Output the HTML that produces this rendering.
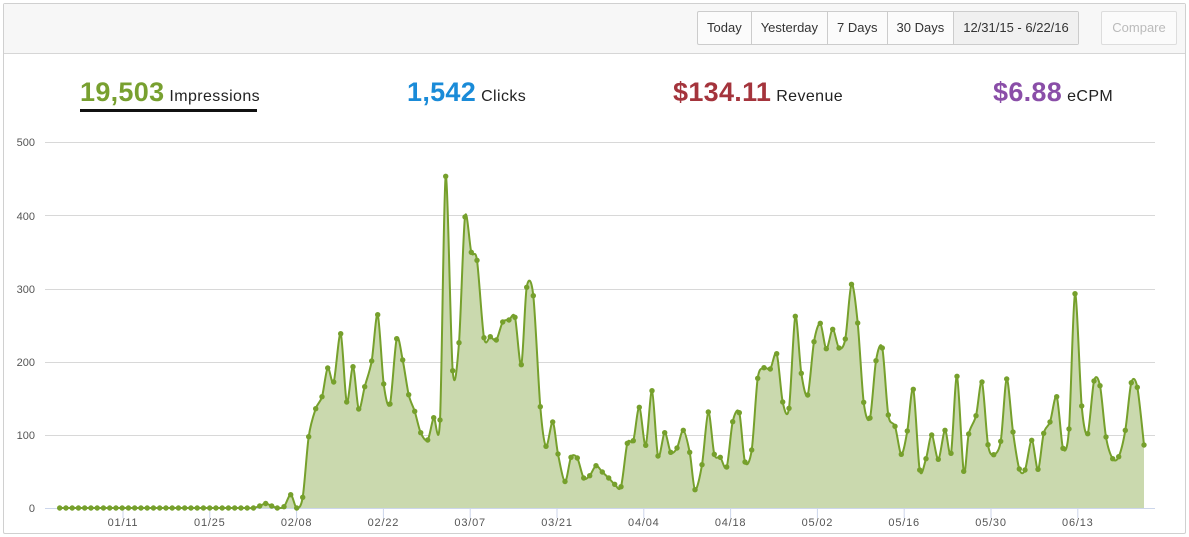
<!DOCTYPE html>
<html><head><meta charset="utf-8"><style>
body{margin:0;width:1189px;height:537px;background:#fff;font-family:"Liberation Sans",sans-serif;overflow:hidden;position:relative}
.card{position:absolute;left:3px;top:3px;width:1181px;height:529px;border:1px solid #d0d0d0;border-radius:2px}
.bar{position:absolute;left:0;top:0;width:1181px;height:49px;background:#f7f7f7;border-bottom:1px solid #d6d6d6}
.btns{position:absolute;left:693px;top:7px;height:32px;display:flex;border:1px solid #ccc;border-radius:2px;background:#fbfbfb}
.btns div{font-size:13px;color:#333;line-height:32px;padding:0 9px;border-left:1px solid #ccc}
.btns div:first-child{border-left:none}
.btns .act{background:#f0f0f0}
.cmp{position:absolute;left:1097px;top:7px;width:74px;height:32px;border:1px solid #ddd;border-radius:2px;font-size:13px;color:#bbb;line-height:32px;text-align:center;background:#fbfbfb}
.st{position:absolute;top:77px;white-space:nowrap}
.st b{font-size:27px;font-weight:bold;letter-spacing:0.3px}
.st span{font-size:16px;color:#222;margin-left:5px;letter-spacing:0.4px}
</style></head><body>
<div class="card">
<div class="bar">
<div class="btns"><div>Today</div><div>Yesterday</div><div>7 Days</div><div>30 Days</div><div class="act">12/31/15 - 6/22/16</div></div>
<div class="cmp">Compare</div>
</div>
</div>
<div class="st" style="left:80px"><b style="color:#78a030">19,503</b><span>Impressions</span></div>
<div style="position:absolute;left:80px;top:109px;width:177px;height:3px;background:#111"></div>
<div class="st" style="left:407px"><b style="color:#1a8bd8">1,542</b><span>Clicks</span></div>
<div class="st" style="left:673px"><b style="color:#a4343c">$134.11</b><span>Revenue</span></div>
<div class="st" style="left:993px"><b style="color:#8a4ea8">$6.88</b><span>eCPM</span></div>
<svg id="ch" width="1189" height="537" style="position:absolute;left:0;top:0" xmlns="http://www.w3.org/2000/svg">
<g stroke="#d8d8d8" stroke-width="1">
<line x1="45" x2="1155" y1="142.5" y2="142.5"/><line x1="45" x2="1155" y1="215.5" y2="215.5"/>
<line x1="45" x2="1155" y1="289.5" y2="289.5"/><line x1="45" x2="1155" y1="362.5" y2="362.5"/>
<line x1="45" x2="1155" y1="435.5" y2="435.5"/>
</g>
<g font-size="11" fill="#555" text-anchor="end" font-family="Liberation Sans,sans-serif">
<text x="35" y="146">500</text><text x="35" y="220">400</text><text x="35" y="293">300</text>
<text x="35" y="366">200</text><text x="35" y="439">100</text><text x="35" y="512">0</text>
</g>
<g id="fillg"></g>
<line x1="45" x2="1155" y1="508.5" y2="508.5" stroke="#ccd6eb"/>
<g id="ticks" stroke="#ccd6eb"></g>
<g id="lbl" font-size="11" fill="#555" text-anchor="middle" letter-spacing="0.8" font-family="Liberation Sans,sans-serif"></g>
<g id="lineg"></g>
</svg>
<script>
var P=[];
for(var i=0;i<33;i++)P.push([59.7+i*6.25,508]);
P[32][1]=506;
var R=[[265.7,503.5],[271.7,506],[277.3,508],[284,506.7],[290.7,494.7],[296.7,508],[302.7,497.3],[308.7,436.7],[315.7,408.7],[322,396.7],[327.7,368],[333.7,382],[340.7,333.7],[346.7,402],[353,366.7],[358.7,409],[364.7,386.7],[371.7,361],[377.7,314.7],[383.7,384],[390,404],[396.7,338.7],[402.7,360],[408.7,394.7],[414.7,411.3],[420.7,432.7],[427.7,440],[433.7,417.7],[440,420],[445.7,176.3],[452.7,370.7],[459,342.7],[465,217],[471.3,252.3],[477,260.3],[484,337.7],[490.3,336.7],[496.3,340],[502.7,322],[509,320],[515,317.3],[521.3,364.7],[526.7,287.3],[533.3,295.7],[540.3,406.7],[546,446.3],[552.7,422],[558,454],[565,481.5],[571,457.3],[577.3,458],[583.7,478],[589.7,475.7],[596,465.7],[602.3,472],[608.7,478],[614.7,484.3],[621,486.7],[627.3,443.3],[633.3,440.7],[639.3,407.3],[645.7,445.3],[652,390.7],[658,456],[664.7,432.7],[670.7,452.3],[677,448],[683.3,430.3],[689.7,452.3],[695,489.7],[702,464.7],[708.3,412],[714.3,454.3],[720.3,457.3],[726.7,467],[732.7,421.7],[739.3,412.7],[745,462],[751.7,450],[757.7,378.3],[764,367.7],[770.3,369],[776.7,353.7],[782.7,402],[789,408.3],[795.3,316.3],[801.3,373.3],[807.7,395],[814,341.7],[820.3,323.3],[826.3,348.7],[832.7,329.3],[839,348],[845.3,339],[851.5,284.3],[857.7,323],[863.7,402.3],[870,418],[876,360.7],[882.3,348],[888.3,415],[895,426.3],[901.3,454.3],[907.3,431],[913.3,389.3],[919.7,470],[926,458.7],[931.7,435],[938.3,459.3],[945,430.3],[951,453.3],[957,376.3],[963.7,471.3],[968.7,434],[976,415.7],[982,382],[988,444.7],[993.7,454.7],[1000.7,441.3],[1006.7,379],[1013,432],[1019.3,469],[1025,470],[1031.7,440.3],[1038,469.3],[1043.7,433.3],[1050,422],[1056.7,396.7],[1063,448.3],[1069,429],[1075,293.7],[1081.7,406],[1087.7,433.7],[1094,381],[1100,385.7],[1106,437],[1112.7,458.7],[1118.7,456.7],[1125.3,430.3],[1131.3,382.7],[1137.3,387.3],[1144,445]];
P=P.concat(R);
var d="M"+P[0][0]+","+P[0][1];
for(var i=0;i<P.length-1;i++){var p0=P[Math.max(0,i-1)],p1=P[i],p2=P[i+1],p3=P[Math.min(P.length-1,i+2)],t=0.3;
d+=" C"+(p1[0]+(p2[0]-p0[0])*t/2).toFixed(1)+","+(p1[1]+(p2[1]-p0[1])*t/2).toFixed(1)+" "+(p2[0]-(p3[0]-p1[0])*t/2).toFixed(1)+","+(p2[1]-(p3[1]-p1[1])*t/2).toFixed(1)+" "+p2[0]+","+p2[1];}
var NS="http://www.w3.org/2000/svg";
function el(n,a,par){var e=document.createElementNS(NS,n);for(var k in a)e.setAttribute(k,a[k]);document.getElementById(par).appendChild(e);return e;}
el("path",{d:d+" L1144,508 L59.7,508 Z",fill:"#cad9ae",stroke:"none"},"fillg");
el("path",{d:d,fill:"none",stroke:"#76a02c","stroke-width":"2"},"lineg");
P.forEach(function(p){el("circle",{cx:p[0],cy:p[1],r:"2.7",fill:"#76a02c"},"lineg");});
var L=["01/11","01/25","02/08","02/22","03/07","03/21","04/04","04/18","05/02","05/16","05/30","06/13"];
L.forEach(function(s,i){var x=123+i*86.8;el("line",{x1:x,x2:x,y1:508,y2:518},"ticks");var t=el("text",{x:x,y:526},"lbl");t.textContent=s;});
</script>
</body></html>
